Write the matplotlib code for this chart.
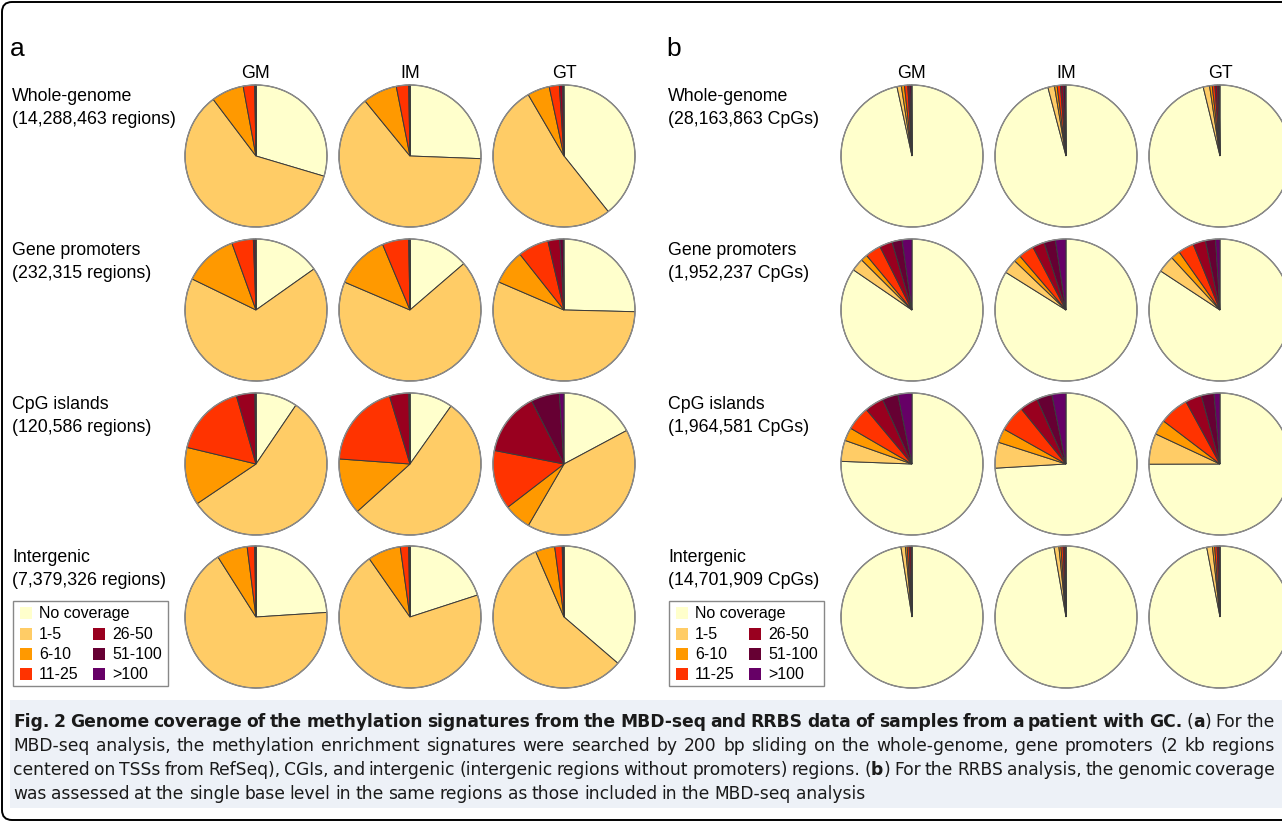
import matplotlib
matplotlib.use("Agg")
import matplotlib.pyplot as plt
from matplotlib.patches import FancyBboxPatch, Rectangle, Circle

# ---- data (percent of regions / CpGs per coverage bin) ----
SAMPLES = ["GM", "IM", "GT"]
BINS = ["No coverage", "1-5", "6-10", "11-25", "26-50", "51-100", ">100"]
COLORS = ["#FFFFCC", "#FFCC66", "#FF9900", "#FF3300", "#99001F", "#660033", "#660066"]

MBD_LABELS = [("Whole-genome", "(14,288,463 regions)"),
              ("Gene promoters", "(232,315 regions)"),
              ("CpG islands", "(120,586 regions)"),
              ("Intergenic", "(7,379,326 regions)")]
RRBS_LABELS = [("Whole-genome", "(28,163,863 CpGs)"),
               ("Gene promoters", "(1,952,237 CpGs)"),
               ("CpG islands", "(1,964,581 CpGs)"),
               ("Intergenic", "(14,701,909 CpGs)")]

# rows: GM, IM, GT
mbd_whole = [[29.6, 60.1, 7.4, 2.6, 0.2, 0.07, 0.03],
             [25.6, 63.5, 7.8, 2.8, 0.2, 0.07, 0.03],
             [39.3, 52.3, 5.05, 2.3, 0.75, 0.2, 0.1]]
mbd_promoter = [[15.2, 67.0, 12.3, 4.9, 0.4, 0.15, 0.05],
                [13.7, 67.8, 12.3, 6.0, 0.2, 0.07, 0.03],
                [25.4, 56.1, 7.9, 7.0, 2.7, 0.8, 0.15]]
mbd_cgi = [[9.5, 56.1, 13.2, 16.8, 4.2, 0.2, 0.05],
           [9.8, 53.5, 12.8, 19.2, 4.4, 0.2, 0.05],
           [17.2, 41.2, 6.2, 13.5, 14.4, 6.5, 1.05]]
mbd_inter = [[24.0, 67.1, 7.0, 1.7, 0.2, 0.07, 0.03],
             [20.0, 70.3, 7.5, 1.9, 0.2, 0.07, 0.03],
             [36.3, 57.2, 4.4, 1.7, 0.25, 0.1, 0.05]]

rrbs_whole = [[96.6, 1.0, 0.7, 0.75, 0.45, 0.4, 0.1],
              [95.8, 1.5, 0.6, 0.75, 0.6, 0.5, 0.15],
              [96.2, 1.45, 0.6, 0.6, 0.55, 0.4, 0.2]]
rrbs_promoter = [[84.6, 2.9, 1.5, 3.6, 2.9, 2.3, 2.25],
                 [83.9, 3.25, 1.6, 3.55, 2.7, 2.6, 2.4],
                 [84.25, 3.9, 2.1, 3.6, 2.85, 2.3, 1.0]]
rrbs_cgi = [[75.6, 4.8, 3.0, 5.5, 4.3, 3.6, 3.2],
            [74.1, 5.9, 3.2, 6.0, 4.15, 3.5, 3.2],
            [75.0, 7.0, 3.4, 6.7, 3.7, 2.9, 1.35]]
rrbs_inter = [[97.5, 1.0, 0.4, 0.45, 0.45, 0.15, 0.05],
              [97.3, 1.1, 0.45, 0.5, 0.45, 0.15, 0.05],
              [97.0, 1.3, 0.5, 0.55, 0.45, 0.15, 0.05]]

CAPTION = [
    [("Fig. 2 Genome coverage of the methylation signatures from the MBD-seq and RRBS data "
      "of samples from a patient with GC.", True), (" (", False), ("a", True), (") For the", False)],
    [("MBD-seq analysis, the methylation enrichment signatures were searched by 200 bp sliding "
      "on the whole-genome, gene promoters (2 kb regions", False)],
    [("centered on TSSs from RefSeq), CGIs, and intergenic (intergenic regions without promoters) "
      "regions. (", False), ("b", True), (") For the RRBS analysis, the genomic coverage", False)],
    [("was assessed at the single base level in the same regions as those included in the "
      "MBD-seq analysis", False)],
]

# ---- layout (pixel units, y down) ----
W, H = 1282, 822
R, PAD = 71, 1.04
COL_X = [256, 410, 564]
ROW_Y = [156, 310, 464, 617]
PANEL_DX = 656
FONT = ["Liberation Sans", "DejaVu Sans"]
CAP_FONT = ["Liberation Sans Narrow", "DejaVu Sans"]
LABEL_FS = 12.8
LEGEND_FS = 11.5

plt.rcParams["font.family"] = FONT
fig = plt.figure(figsize=(W / 100, H / 100), dpi=100)
bg = fig.add_axes([0, 0, 1, 1])
bg.set_xlim(0, W)
bg.set_ylim(H, 0)
bg.axis("off")

# outer frame and caption box
bg.add_patch(FancyBboxPatch((2, 2), W + 30, H - 4, boxstyle="round,pad=0,rounding_size=10",
                            fc="white", ec="black", lw=1.4))
bg.add_patch(Rectangle((10, 700), W, 108, fc="#EDF1F7", ec="none"))


def draw_pie(vals, cx, cy):
    ax = fig.add_axes([(cx - R * PAD) / W, 1 - (cy + R * PAD) / H,
                       2 * R * PAD / W, 2 * R * PAD / H])
    ax.pie(vals, colors=COLORS, startangle=90, counterclock=False, radius=1,
           wedgeprops=dict(edgecolor="#3a3a3a", linewidth=0.7))
    ax.add_patch(Circle((0, 0), 1, fc="none", ec="#8a8a8a", lw=1.0))
    ax.set_xlim(-PAD, PAD)
    ax.set_ylim(-PAD, PAD)
    ax.axis("off")


def draw_legend(dx):
    bg.add_patch(Rectangle((13 + dx, 601), 155, 85, fc="white", ec="#888888", lw=1.0))
    rows = [613, 634, 654, 674]
    spots = [(0, 0)] + [(0, i) for i in (1, 2, 3)] + [(1, i) for i in (1, 2, 3)]
    for (col, r), lab, c in zip(spots, BINS, COLORS):
        px = (20 if col == 0 else 93) + dx
        bg.add_patch(Rectangle((px, rows[r] - 6), 12, 12, fc=c, ec="none"))
        bg.text(px + 19, rows[r] + 5, lab, fontsize=LEGEND_FS, va="baseline", ha="left")


def draw_panel(letter, dx, labels, data):
    bg.text(10 + dx, 56, letter, fontsize=19, va="baseline", ha="left")
    for s, cx in zip(SAMPLES, COL_X):
        bg.text(cx + dx, 78, s, fontsize=LABEL_FS, ha="center", va="baseline")
    for (l1, l2), cy, region in zip(labels, ROW_Y, data):
        bg.text(12 + dx, cy - 55, l1, fontsize=LABEL_FS, va="baseline")
        bg.text(12 + dx, cy - 32, l2, fontsize=LABEL_FS, va="baseline")
        for vals, cx in zip(region, COL_X):
            draw_pie(vals, cx + dx, cy)
    draw_legend(dx)


draw_panel("a", 0, MBD_LABELS, [mbd_whole, mbd_promoter, mbd_cgi, mbd_inter])
draw_panel("b", PANEL_DX, RRBS_LABELS, [rrbs_whole, rrbs_promoter, rrbs_cgi, rrbs_inter])

# ---- caption, justified word by word ----
renderer = fig.canvas.get_renderer()
CAP_X0, CAP_X1 = 13, 1275
CAP_BASE = [727, 751, 775, 799]


def to_words(segs):
    words = [[]]
    for s, b in segs:
        for i, p in enumerate(s.split(" ")):
            if i > 0:
                words.append([])
            if p:
                words[-1].append((p, b))
    return [w for w in words if w]


def text_w(s, bold, fs):
    t = bg.text(0, 0, s, fontsize=fs, fontweight="bold" if bold else "normal", family=CAP_FONT)
    w = t.get_window_extent(renderer).width
    t.remove()
    return w


fs = 12.5
need = 0
for segs in CAPTION[:3]:
    words = to_words(segs)
    tot = sum(text_w(p, b, fs) for w in words for p, b in w)
    need = max(need, (tot + 0.22 * fs * 1.389 * (len(words) - 1)) / (CAP_X1 - CAP_X0))
if need > 1:
    fs = fs / need

for k, (segs, yb) in enumerate(zip(CAPTION, CAP_BASE)):
    words = to_words(segs)
    widths = [[text_w(p, b, fs) for p, b in w] for w in words]
    tot = sum(sum(ws) for ws in widths)
    if k < len(CAPTION) - 1:
        gap = (CAP_X1 - CAP_X0 - tot) / (len(words) - 1)
    else:
        gap = 0.27 * fs * 1.389
    x = CAP_X0
    for w, ws in zip(words, widths):
        for (p, b), pw in zip(w, ws):
            bg.text(x, yb, p, fontsize=fs, fontweight="bold" if b else "normal",
                    family=CAP_FONT, va="baseline", ha="left", color="#1a1a1a")
            x += pw
        x += gap

fig.savefig("out.png", dpi=100)
